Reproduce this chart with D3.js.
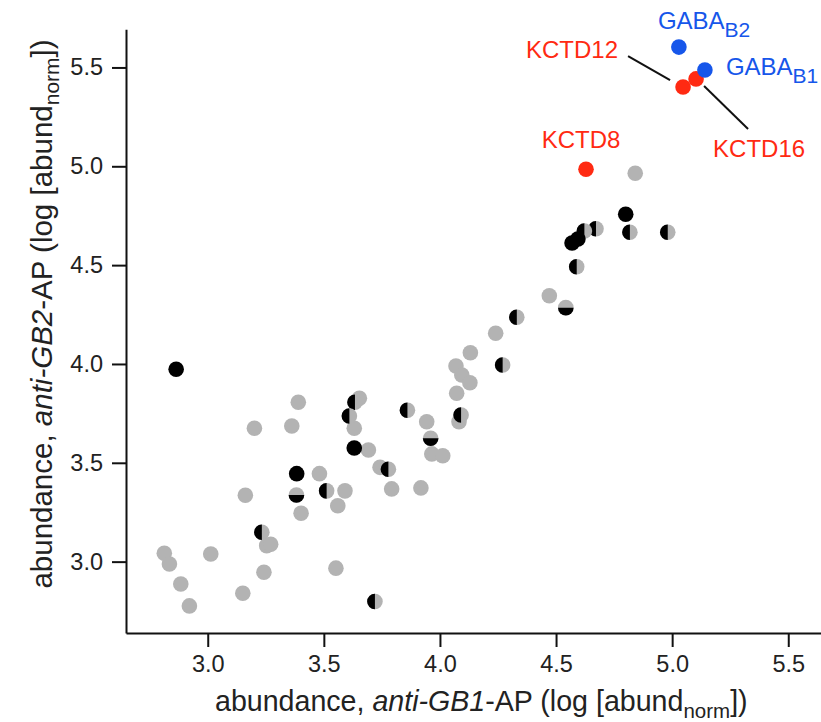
<!DOCTYPE html>
<html>
<head>
<meta charset="utf-8">
<script src="https://cdnjs.cloudflare.com/ajax/libs/d3/7.8.5/d3.min.js"></script>
<style>
  body { margin: 0; background: #fff; }
  svg { display: block; font-family: "Liberation Sans", Arial, Helvetica, sans-serif; }
</style>
</head>
<body>
<svg width="821" height="722"></svg>
<script>
// values: [x = anti-GB1 abundance, y = anti-GB2 abundance]
const grayPts = [
  [3.390, 3.806], [3.653, 3.826], [3.201, 3.675], [3.362, 3.686], [3.631, 3.675],
  [3.692, 3.565], [3.742, 3.477], [3.481, 3.445], [3.591, 3.358], [3.560, 3.283],
  [3.792, 3.368], [3.918, 3.373], [3.402, 3.245], [3.162, 3.336], [3.254, 3.081],
  [3.271, 3.088], [2.813, 3.042], [2.835, 2.988], [3.013, 3.039], [3.242, 2.946],
  [3.552, 2.967], [2.884, 2.887], [3.151, 2.840], [2.921, 2.776], [4.069, 3.990],
  [4.094, 3.944], [4.129, 3.905], [4.072, 3.852], [4.082, 3.708], [3.943, 3.708],
  [3.965, 3.545], [4.012, 3.536], [4.841, 4.965], [4.471, 4.345], [4.240, 4.155],
  [4.131, 4.057]
]
// half black (left) / half gray (right)
const halfPts = [
  [3.634, 3.806], [3.860, 3.766], [3.610, 3.737], [3.778, 3.467], [3.512, 3.358],
  [3.233, 3.149], [3.720, 2.798], [4.270, 3.995], [4.091, 3.742], [4.672, 4.684],
  [4.622, 4.673], [4.818, 4.666], [4.981, 4.666], [4.589, 4.492], [4.331, 4.236]
]
// gray top / black bottom
const splitPts = [[3.382, 3.337], [3.960, 3.624], [4.542, 4.285]]
const blackPts = [
  [3.631, 3.575], [3.383, 3.445], [2.864, 3.973], [4.800, 4.757], [4.569, 4.612], [4.594, 4.632]
]
const redNames = ["KCTD8", "KCTD12", "KCTD16"]
const redPts = [[4.629, 4.985], [5.047, 5.401], [5.103, 5.442]]
const blueNames = ["GABA|B2", "GABA|B1"]
const bluePts = [[5.029, 5.603], [5.141, 5.487]]
const xTicks = [3.0, 3.5, 4.0, 4.5, 5.0, 5.5]
const yTicks = [3.0, 3.5, 4.0, 4.5, 5.0, 5.5]

const svg = d3.select("svg")
const gray = "#b3b3b3", red = "#ff2a12", blue = "#1656ea"
const r = 7.8

const x = d3.scaleLinear().domain([2.648, 5.641]).range([126, 821])
const y = d3.scaleLinear().domain([2.639, 5.693]).range([633, 29.3])

const xAxis = d3.axisBottom(x).tickValues(xTicks).tickFormat(d3.format(".1f"))
  .tickSizeInner(14).tickSizeOuter(0).tickPadding(8)
const yAxis = d3.axisLeft(y).tickValues(yTicks).tickFormat(d3.format(".1f"))
  .tickSizeInner(14).tickSizeOuter(0).tickPadding(9)

const gx = svg.append("g").attr("transform", "translate(0,633)").call(xAxis)
const gy = svg.append("g").attr("transform", "translate(126,0)").call(yAxis)
;[gx, gy].forEach(g => {
  g.selectAll("path, line").attr("stroke", "#111").attr("stroke-width", 2)
  g.selectAll("text").attr("font-size", 23.5).attr("fill", "#222")
    .attr("font-family", "Liberation Sans, Arial, sans-serif")
})

// axis titles
const xt = svg.append("text").attr("x", 215).attr("y", 711)
  .attr("font-size", 28.6).attr("fill", "#222")
xt.append("tspan").text("abundance, ")
xt.append("tspan").attr("font-style", "italic").text("anti-GB1")
xt.append("tspan").text("-AP (log [abund")
xt.append("tspan").attr("font-size", 20.5).attr("dy", 7).text("norm")
xt.append("tspan").attr("dy", -7).text("])")

const yt = svg.append("text").attr("transform", "translate(52,314) rotate(-90)")
  .attr("text-anchor", "middle").attr("font-size", 29.5).attr("fill", "#222")
yt.append("tspan").text("abundance, ")
yt.append("tspan").attr("font-style", "italic").text("anti-GB2")
yt.append("tspan").text("-AP (log [abund")
yt.append("tspan").attr("font-size", 21).attr("dy", 7).text("norm")
yt.append("tspan").attr("dy", -7).text("])")

// points
const pts = svg.append("g")
pts.selectAll(".g").data(grayPts).enter().append("circle")
  .attr("cx", d => x(d[0])).attr("cy", d => y(d[1])).attr("r", r).attr("fill", gray)

const leftHalf = d3.arc().innerRadius(0).outerRadius(r).startAngle(Math.PI).endAngle(2 * Math.PI)
const bottomHalf = d3.arc().innerRadius(0).outerRadius(r).startAngle(Math.PI / 2).endAngle(1.5 * Math.PI)

function halfDot(data, arc) {
  const g = pts.selectAll(null).data(data).enter().append("g")
    .attr("transform", d => `translate(${x(d[0])},${y(d[1])})`)
  g.append("circle").attr("r", r).attr("fill", gray)
  g.append("path").attr("d", arc()).attr("fill", "#000")
}
halfDot(halfPts, leftHalf)
halfDot(splitPts, bottomHalf)

pts.selectAll(null).data(blackPts).enter().append("circle")
  .attr("cx", d => x(d[0])).attr("cy", d => y(d[1])).attr("r", r).attr("fill", "#000")

// leader lines (pixel offsets from the point)
const leaders = { KCTD12: [-55, -31, -13, -7], KCTD16: [8, 7, 52, 50] }
redNames.forEach((n, i) => {
  if (!leaders[n]) return
  const L = leaders[n], px = x(redPts[i][0]), py = y(redPts[i][1])
  svg.append("line").attr("x1", px + L[0]).attr("y1", py + L[1])
    .attr("x2", px + L[2]).attr("y2", py + L[3])
    .attr("stroke", "#111").attr("stroke-width", 2)
})

svg.append("g").selectAll("circle").data(redPts).enter().append("circle")
  .attr("cx", d => x(d[0])).attr("cy", d => y(d[1])).attr("r", r).attr("fill", red)
svg.append("g").selectAll("circle").data(bluePts).enter().append("circle")
  .attr("cx", d => x(d[0])).attr("cy", d => y(d[1])).attr("r", r).attr("fill", blue)

// labels: [dx, dy, anchor]
const redLab = { KCTD8: [-5, -21, "middle"], KCTD12: [-65, -29, "end"], KCTD16: [17, 78, "start"] }
redNames.forEach((n, i) => {
  const o = redLab[n]
  svg.append("text").attr("x", x(redPts[i][0]) + o[0]).attr("y", y(redPts[i][1]) + o[1])
    .attr("text-anchor", o[2]).attr("font-size", 24).attr("fill", red).text(n)
})
const blueLab = [[-21, -18], [21, 5]]
blueNames.forEach((n, i) => {
  const parts = n.split("|")
  const t = svg.append("text").attr("x", x(bluePts[i][0]) + blueLab[i][0])
    .attr("y", y(bluePts[i][1]) + blueLab[i][1]).attr("font-size", 24).attr("fill", blue)
  t.append("tspan").text(parts[0])
  t.append("tspan").attr("font-size", 21).attr("dy", 8).text(parts[1])
})
</script>
</body>
</html>
